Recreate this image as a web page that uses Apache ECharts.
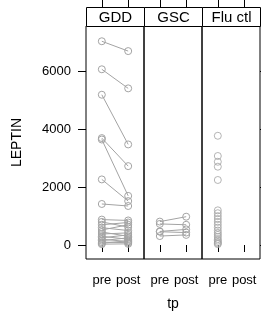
<!DOCTYPE html>
<html>
<head>
<meta charset="utf-8">
<style>
  html, body { margin: 0; padding: 0; background: #fff; }
  #chart { width: 261px; height: 323px; }
</style>
<script src="https://cdn.jsdelivr.net/npm/echarts@6/dist/echarts.min.js"></script>
</head>
<body>
<div id="chart"></div>
<script>
const panels = ['GDD', 'GSC', 'Flu ctl'];
const tpLabels = ['pre', 'post'];
const yTicks = [0, 2000, 4000, 6000];

// GDD: paired pre / post
const gddPre = [7050, 6080, 5200, 3700, 3650, 2270, 1420, 880, 800, 700, 600, 520, 450, 380, 300, 250, 200, 150, 100, 60, 30];
const gddPost = [6710, 5420, 3480, 2730, 1700, 1520, 1350, 850, 620, 780, 500, 700, 300, 420, 200, 350, 120, 250, 80, 150, 40];
// GSC: paired pre / post
const gscPre = [810, 730, 470, 460, 310];
const gscPost = [980, 700, 540, 430, 350];
// Flu ctl: pre only
const fluPre = [3780, 3080, 2880, 2710, 2250, 1200, 1100, 1000, 900, 800, 700, 600, 500, 420, 350, 280, 200, 150, 100, 60, 30];

const FONT = 'Liberation Sans';
const GREY = '#a3a3a3';
const PANEL_LEFT = 86, PANEL_W = 58, PANEL_TOP = 26, PANEL_H = 233, STRIP_H = 19;

const chart = echarts.init(document.getElementById('chart'));

function pairSeries(pre, post, idx) {
  return pre.map((v, i) => ({
    type: 'line',
    xAxisIndex: idx * 2,
    yAxisIndex: idx,
    data: [[1, v], [2, post[i]]],
    symbol: 'circle',
    symbolSize: 7,
    showSymbol: true,
    itemStyle: { color: 'transparent', borderColor: GREY, borderWidth: 1 },
    lineStyle: { color: GREY, width: 1 },
    silent: true,
    animation: false,
    z: 2
  }));
}

const grids = panels.map((p, i) => ({
  left: PANEL_LEFT + i * PANEL_W,
  top: PANEL_TOP,
  width: PANEL_W,
  height: PANEL_H,
  show: true,
  borderColor: '#000',
  borderWidth: 1,
  backgroundColor: 'transparent'
}));

const xAxes = [];
panels.forEach((p, i) => {
  xAxes.push({
    type: 'value',
    gridIndex: i,
    min: 0.4,
    max: 2.6,
    position: 'bottom',
    splitLine: { show: false },
    axisLine: { show: false },
    axisTick: { show: true, length: 7, inside: false, customValues: [1, 2], lineStyle: { color: '#000' } },
    axisLabel: {
      show: true, customValues: [1, 2], margin: 15,
      formatter: v => tpLabels[Math.round(v) - 1],
      color: '#000', fontFamily: FONT, fontSize: 13
    },
    name: i === 1 ? 'tp' : '',
    nameLocation: 'middle',
    nameGap: 38,
    nameTextStyle: { color: '#000', fontFamily: FONT, fontSize: 14 }
  });
  xAxes.push({
    type: 'value',
    gridIndex: i,
    min: 0.4,
    max: 2.6,
    position: 'top',
    offset: STRIP_H,
    splitLine: { show: false },
    axisLine: { show: false },
    axisTick: { show: true, length: 7, inside: false, customValues: [1, 2], lineStyle: { color: '#000' } },
    axisLabel: { show: false }
  });
});

const yAxes = panels.map((p, i) => ({
  type: 'value',
  gridIndex: i,
  min: -484,
  max: 7578,
  position: i === 2 ? 'right' : 'left',
  splitLine: { show: false },
  axisLine: { show: false },
  axisTick: { show: i !== 1, length: 8, customValues: yTicks, lineStyle: { color: '#000' } },
  axisLabel: {
    show: i === 0, customValues: yTicks, margin: 15,
    formatter: v => String(v),
    color: '#000', fontFamily: FONT, fontSize: 13
  },
  name: i === 0 ? 'LEPTIN' : '',
  nameLocation: 'middle',
  nameRotate: 90,
  nameGap: 62,
  nameTextStyle: { color: '#000', fontFamily: FONT, fontSize: 14 }
}));

const series = [
  ...pairSeries(gddPre, gddPost, 0),
  ...pairSeries(gscPre, gscPost, 1),
  {
    type: 'scatter',
    xAxisIndex: 4,
    yAxisIndex: 2,
    data: fluPre.map(v => [1, v]),
    symbol: 'circle',
    symbolSize: 7,
    itemStyle: { color: 'transparent', borderColor: GREY, borderWidth: 1 },
    silent: true,
    animation: false
  }
];

const strips = panels.map((p, i) => ({
  type: 'group',
  left: PANEL_LEFT + i * PANEL_W,
  top: PANEL_TOP - STRIP_H,
  children: [
    { type: 'rect', shape: { x: 0, y: 0, width: PANEL_W, height: STRIP_H },
      style: { fill: '#fff', stroke: '#000', lineWidth: 1 } },
    { type: 'text', x: PANEL_W / 2, y: STRIP_H / 2 + 1,
      style: { text: p, fill: '#000', font: '15px "' + FONT + '"', align: 'center', verticalAlign: 'middle' } }
  ]
}));

chart.setOption({
  animation: false,
  grid: grids,
  xAxis: xAxes,
  yAxis: yAxes,
  series: series,
  graphic: strips
});
</script>
</body>
</html>
